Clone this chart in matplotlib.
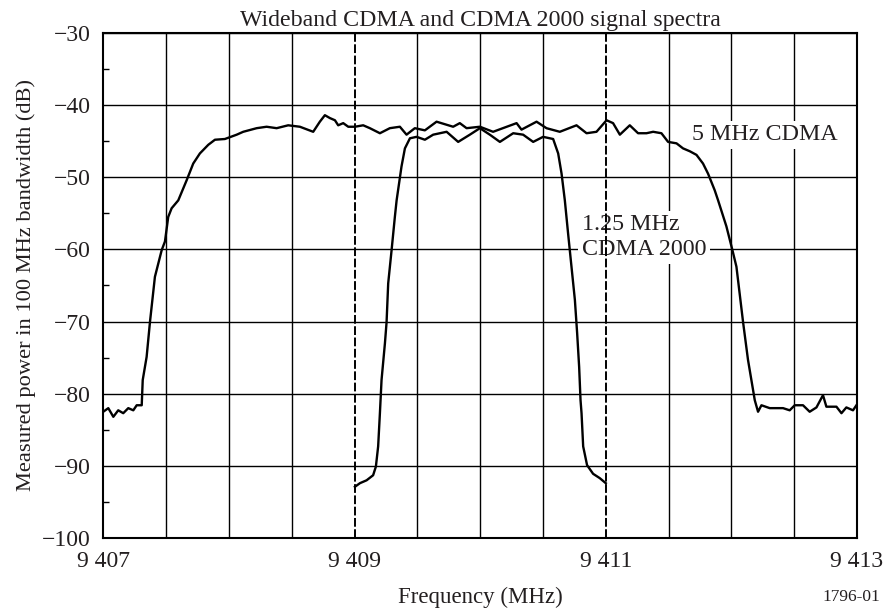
import matplotlib.pyplot as plt
from matplotlib.ticker import FixedLocator, MultipleLocator

# police type Times
plt.rcParams['font.family'] = ['Liberation Serif', 'DejaVu Serif']

# trace 5 MHz CDMA (MHz, dB)
f_wcdma = [9407.000, 9407.040, 9407.080, 9407.119, 9407.159, 9407.199, 9407.239,
           9407.266, 9407.306, 9407.314, 9407.345, 9407.372, 9407.411, 9407.465,
           9407.491, 9407.517, 9407.544, 9407.597, 9407.664, 9407.716, 9407.769,
           9407.836, 9407.889, 9407.968, 9408.062, 9408.114, 9408.221, 9408.300,
           9408.380, 9408.472, 9408.565, 9408.671, 9408.724, 9408.764, 9408.804,
           9408.844, 9408.870, 9408.910, 9408.950, 9409.003, 9409.069, 9409.122,
           9409.202, 9409.281, 9409.361, 9409.414, 9409.480, 9409.560, 9409.653,
           9409.785, 9409.838, 9409.892, 9409.998, 9410.103, 9410.290, 9410.329,
           9410.449, 9410.528, 9410.634, 9410.767, 9410.847, 9410.926, 9411.006,
           9411.058, 9411.112, 9411.191, 9411.257, 9411.324, 9411.377, 9411.443,
           9411.496, 9411.563, 9411.615, 9411.669, 9411.722, 9411.774, 9411.814,
           9411.867, 9411.894, 9411.960, 9412.008, 9412.040, 9412.093, 9412.132,
           9412.159, 9412.186, 9412.212, 9412.239, 9412.305, 9412.411, 9412.464,
           9412.504, 9412.570, 9412.623, 9412.677, 9412.729, 9412.756, 9412.836,
           9412.876, 9412.915, 9412.968, 9412.995]
p_wcdma = [-82.5, -82.0, -83.2, -82.3, -82.7, -82.0, -82.3,
           -81.6, -81.6, -78.1, -74.9, -70.0, -63.8, -60.1,
           -58.9, -55.5, -54.3, -53.2, -50.4, -48.1, -46.7,
           -45.5, -44.8, -44.7, -44.1, -43.7, -43.2, -43.0,
           -43.2, -42.8, -43.0, -43.7, -42.3, -41.4, -41.8,
           -42.1, -42.8, -42.5, -43.0, -43.0, -42.8, -43.2,
           -43.9, -43.2, -43.0, -44.1, -43.2, -43.5, -42.3,
           -43.0, -42.5, -43.2, -43.0, -43.7, -42.5, -43.4,
           -42.3, -43.2, -43.7, -42.8, -43.9, -43.7, -42.1,
           -42.5, -44.1, -42.8, -43.9, -43.9, -43.7, -43.9,
           -45.1, -45.3, -46.0, -46.4, -46.9, -48.1, -49.5,
           -51.8, -53.2, -56.8, -60.1, -62.4, -70.1, -75.3,
           -78.1, -80.9, -82.5, -81.6, -82.0, -82.0, -82.3,
           -81.6, -81.6, -82.5, -81.9, -80.2, -81.8, -81.8,
           -82.7, -81.9, -82.3, -81.6]

# trace 1.25 MHz CDMA 2000 (MHz, dB)
f_cdma2000 = [9409.003, 9409.043, 9409.096, 9409.148, 9409.170, 9409.188, 9409.202,
              9409.215, 9409.242, 9409.255, 9409.268, 9409.295, 9409.321, 9409.335,
              9409.374, 9409.401, 9409.441, 9409.494, 9409.560, 9409.626, 9409.733,
              9409.825, 9409.918, 9409.998, 9410.077, 9410.157, 9410.263, 9410.342,
              9410.422, 9410.501, 9410.581, 9410.621, 9410.648, 9410.674, 9410.700,
              9410.727, 9410.754, 9410.772, 9410.788, 9410.799, 9410.807, 9410.820,
              9410.851, 9410.899, 9410.952, 9411.000]
p_cdma2000 = [-92.9, -92.4, -92.0, -91.3, -90.1, -87.3, -82.7,
              -78.1, -73.0, -70.1, -64.7, -60.1, -55.5, -53.2,
              -48.5, -46.0, -44.6, -44.4, -44.8, -44.1, -43.7,
              -45.1, -44.1, -43.2, -44.1, -45.1, -43.9, -44.1,
              -45.1, -44.4, -44.7, -46.7, -49.5, -53.2, -57.8,
              -62.4, -67.0, -71.6, -76.3, -80.9, -82.7, -87.3,
              -89.9, -91.1, -91.7, -92.4]

# graduations
x_major = [9407, 9409, 9411, 9413]
x_labels = ['9 407', '9 409', '9 411', '9 413']
x_grid = [9407.5, 9408, 9408.5, 9409.5, 9410, 9410.5, 9411.5, 9412, 9412.5]
x_dashed = [9409, 9411]

txt = '#231f20'

fig, ax = plt.subplots(figsize=(8.85, 6.1), dpi=100)
fig.subplots_adjust(left=0.1167, right=0.9684, bottom=0.118, top=0.946)

ax.plot(f_wcdma, p_wcdma, color='black', lw=1.7, zorder=5)
ax.plot(f_cdma2000, p_cdma2000, color='black', lw=1.7, zorder=5)

for xv in x_dashed:
    ax.axvline(xv, color='black', lw=1.4, ls=(0, (4.5, 1.3)), zorder=4)

ax.set_xlim(9407, 9413)
ax.set_ylim(-100, -30)
ax.set_xticks(x_major)
ax.set_xticklabels(x_labels)
ax.xaxis.set_minor_locator(FixedLocator(x_grid))
ax.yaxis.set_major_locator(MultipleLocator(10))
ax.yaxis.set_minor_locator(MultipleLocator(5))

ax.grid(which='minor', axis='x', color='black', lw=1.0, zorder=1)
ax.grid(which='major', axis='y', color='black', lw=1.0, zorder=1)
ax.set_axisbelow(True)

ax.tick_params(axis='x', which='both', length=0, pad=9, labelsize=17, labelcolor=txt)
ax.tick_params(axis='y', which='major', length=0, pad=9, labelsize=17, labelcolor=txt)
ax.tick_params(axis='y', which='minor', direction='in', length=4, width=1)
for s in ax.spines.values():
    s.set_linewidth(1.5)

ax.set_title('Wideband CDMA and CDMA 2000 signal spectra', fontsize=17.2, color=txt, pad=5)
ax.set_xlabel('Frequency (MHz)', fontsize=16.5, color=txt, labelpad=11)
ax.set_ylabel('Measured power in 100 MHz bandwidth (dB)', fontsize=16.2, color=txt, labelpad=4)

box = dict(boxstyle='square,pad=0.15', fc='white', ec='none')
ax.text(9411.69, -44.1, '5 MHz CDMA', fontsize=17.3, color=txt, ha='left', va='center',
        bbox=box, zorder=3)
ax.text(9410.81, -58.3, '1.25 MHz\nCDMA 2000', fontsize=17.3, color=txt, ha='left', va='center',
        linespacing=1.25, bbox=box, zorder=3)

fig.text(0.995, 0.008, '1796-01', fontsize=12.5, color=txt, ha='right', va='bottom')

plt.savefig('out.png', dpi=100)
